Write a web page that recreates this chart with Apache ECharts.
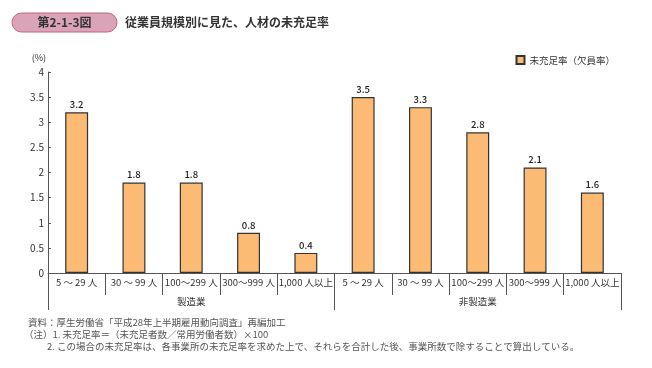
<!DOCTYPE html>
<html><head><meta charset="utf-8">
<script src="https://cdn.jsdelivr.net/npm/echarts@6/dist/echarts.min.js"></script>
<style>html,body{margin:0;padding:0;background:#fff}#c{width:652px;height:368px}</style>
</head><body><div id="c"></div>
<script>
const categories = ['5 ～ 29 人','30 ～ 99 人','100～299 人','300～999 人','1,000 人以上','5 ～ 29 人','30 ～ 99 人','100～299 人','300～999 人','1,000 人以上'];
const groups = ['製造業','非製造業'];
const values = [3.2, 1.8, 1.8, 0.8, 0.4, 3.5, 3.3, 2.8, 2.1, 1.6];
const yTicks = {min: 0, max: 4, interval: 0.5};
const seriesName = '未充足率（欠員率）';
const figNo = '第2-1-3図';
const title = '従業員規模別に見た、人材の未充足率';
const notes = [
  '資料：厚生労働省「平成28年上半期雇用動向調査」再編加工',
  '（注）1. 未充足率＝（未充足者数／常用労働者数）×100',
  '2. この場合の未充足率は、各事業所の未充足率を求めた上で、それらを合計した後、事業所数で除することで算出している。'
];
const FONT = '"Noto Sans CJK JP","Noto Sans",sans-serif';
const chart = echarts.init(document.getElementById('c'), null, {renderer: 'canvas'});
chart.setOption({
  animation: false,
  textStyle: {fontFamily: FONT},
  grid: {left: 48, right: 31, top: 72, bottom: 95},
  legend: {
    right: 32, top: 50, itemWidth: 8, itemHeight: 8, itemGap: 4,
    textStyle: {fontSize: 9.5, color: '#333', fontFamily: FONT},
    data: [{name: seriesName, icon: 'rect'}]
  },
  xAxis: [{
    type: 'category', data: categories, position: 'bottom',
    axisLine: {show: true, lineStyle: {color: '#555', width: 1}},
    axisTick: {show: true, length: 22, lineStyle: {color: '#555'}},
    axisLabel: {fontSize: 9.5, color: '#333', margin: 5, interval: 0, fontFamily: FONT}
  }, {
    type: 'category', data: groups, position: 'bottom',
    axisLine: {show: false},
    axisTick: {show: true, length: 37, lineStyle: {color: '#555'}},
    axisLabel: {fontSize: 9.5, color: '#333', margin: 24, fontFamily: FONT}
  }],
  yAxis: {
    type: 'value', min: yTicks.min, max: yTicks.max, interval: yTicks.interval,
    name: '(%)', nameLocation: 'end', nameGap: 10,
    nameTextStyle: {fontSize: 9, color: '#333', align: 'right', padding: [0, 2, 0, 0]},
    axisLine: {show: true, lineStyle: {color: '#555'}},
    axisTick: {show: true, inside: true, length: 3, lineStyle: {color: '#555'}},
    splitLine: {show: false},
    axisLabel: {fontSize: 10, color: '#333', margin: 4, fontFamily: FONT}
  },
  series: [{
    name: seriesName, type: 'bar', data: values, barWidth: '40%', xAxisIndex: 0,
    itemStyle: {color: '#fbbb74', borderColor: '#333', borderWidth: 1.2},
    label: {show: true, position: 'top', distance: 3, fontSize: 9.5, color: '#222', fontWeight: 500, fontFamily: FONT}
  }],
  graphic: [
    {type: 'rect', shape: {x: 12, y: 13, width: 105, height: 19, r: 9.5},
     style: {fill: '#dba3b8', stroke: '#c0667f', lineWidth: 1}},
    {type: 'text', x: 64.5, y: 22.5, style: {text: figNo, fill: '#333', font: 'bold 12px ' + FONT, align: 'center', verticalAlign: 'middle'}},
    {type: 'text', x: 125, y: 22.5, style: {text: title, fill: '#333', font: 'bold 12px ' + FONT, verticalAlign: 'middle'}},
    {type: 'text', x: 28, y: 322, style: {text: notes[0], fill: '#555', font: '9.5px ' + FONT, verticalAlign: 'middle'}},
    {type: 'text', x: 24, y: 334, style: {text: notes[1], fill: '#555', font: '9.5px ' + FONT, verticalAlign: 'middle'}},
    {type: 'text', x: 47, y: 346, style: {text: notes[2], fill: '#555', font: '9.5px ' + FONT, verticalAlign: 'middle'}}
  ]
});
</script></body></html>
